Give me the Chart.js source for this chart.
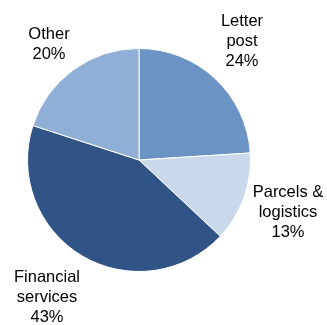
<!DOCTYPE html>
<html>
<head>
<meta charset="utf-8">
<script src="https://cdn.jsdelivr.net/npm/chart.js@4/dist/chart.umd.min.js"></script>
<style>
  html, body { margin: 0; padding: 0; background: #fff; }
  #wrap { width: 327px; height: 325px; }
</style>
</head>
<body>
<div id="wrap"><canvas id="chartSegments"></canvas></div>
<script>
// Répartition par activité
const segments = ["Letter post", "Parcels & logistics", "Financial services", "Other"];
const parts = [24, 13, 43, 20];
const couleurs = ["#6b93c4", "#c9d9eb", "#2f5485", "#8fafd6"];

// lignes de libellé et position de chaque étiquette
const lignes = [["Letter", "post"], ["Parcels &", "logistics"], ["Financial", "services"], ["Other"]];
const posLabels = [[242, 21], [288, 192], [47, 277], [49, 34]];

const etiquettes = {
  id: 'etiquettes',
  afterDraw(chart) {
    const ctx = chart.ctx;
    ctx.save();
    ctx.font = '16.5px "Liberation Sans", Arial, sans-serif';
    ctx.fillStyle = '#000';
    ctx.textAlign = 'center';
    ctx.textBaseline = 'middle';
    parts.forEach((v, i) => {
      const txt = [...lignes[i], v + "%"];
      const [x, y] = posLabels[i];
      txt.forEach((t, k) => ctx.fillText(t, x, y + k * 20));
    });
    ctx.restore();
  }
};

new Chart(document.getElementById("chartSegments"), {
  type: 'pie',
  data: { labels: segments, datasets: [{ data: parts, backgroundColor: couleurs, borderColor: "#fff", borderWidth: 1 }] },
  options: {
    responsive: true,
    maintainAspectRatio: false,
    animation: false,
    layout: { padding: { left: 27, right: 76, top: 48, bottom: 53 } },
    plugins: { legend: { display: false }, tooltip: { enabled: false } }
  },
  plugins: [etiquettes]
});
</script>
</body>
</html>
